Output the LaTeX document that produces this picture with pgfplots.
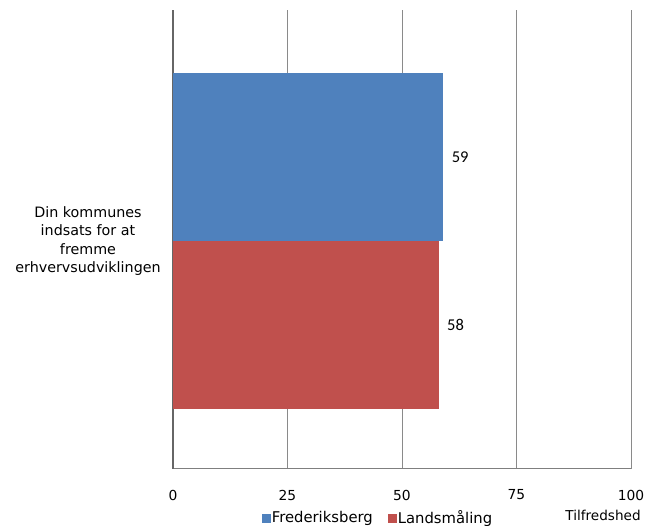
\documentclass[border=0pt]{standalone}
\usepackage{fontspec}
\setmainfont{DejaVu Sans}
\newfontfamily\carlito{Carlito}
\usepackage{pgfplots}
\pgfplotsset{compat=1.18}
\definecolor{blueS}{HTML}{4F81BD}
\definecolor{redS}{HTML}{C0504D}
\definecolor{gridc}{HTML}{8A8A8A}
\definecolor{axisc}{HTML}{7F7F7F}
\begin{document}
\begin{tikzpicture}[x=1pt,y=1pt]
\useasboundingbox (0,0) rectangle (648,526);
\begin{axis}[
  /pgf/number format/assume math mode=true,
  at={(173pt,57pt)}, anchor=south west,
  scale only axis, width=458pt, height=459pt,
  xmin=0, xmax=100, ymin=-228, ymax=231,
  axis x line=bottom, axis y line=left,
  x axis line style={-, draw=axisc, line width=1pt},
  y axis line style={-, draw=axisc!80!black, line width=1.2pt},
  xtick={0,25,50,75,100},
  ytick={0},
  yticklabels={{Din kommunes\\indsats for at\\fremme\\erhvervsudviklingen}},
  major tick length=0pt,
  xmajorgrids, major grid style={gridc, line width=0.8pt},
  xticklabel style={font=\fontsize{13.8}{14}\selectfont, anchor=center, yshift=-26pt},
  yticklabel style={font=\fontsize{14.3}{18.5}\selectfont, align=center, anchor=center, xshift=-85pt},
  xbar, bar width=168pt,
  nodes near coords={\carlito\fontsize{16.5}{17}\selectfont\pgfmathprintnumber{\pgfplotspointmeta}},
  every node near coord/.append style={anchor=west, xshift=5pt, text=black},
  xlabel={Tilfredshed},
  xlabel style={at={(axis description cs:0.939,-0.102)}, anchor=center, font=\fontsize{13.6}{14}\selectfont},
  legend style={at={(axis description cs:0.4465,-0.1068)}, anchor=center, draw=none, legend columns=2,
    font=\fontsize{14.8}{15}\selectfont,
    /tikz/every even column/.append style={column sep=14pt},
    nodes={inner sep=1pt}},
  legend image code/.code={\fill[#1] (0pt,-4.5pt) rectangle (9pt,4.5pt);},
]
\addplot[fill=blueS, draw=none, bar shift=84pt] coordinates {(59,0)};
\addplot[fill=redS, draw=none, bar shift=-84pt] coordinates {(58,0)};
\legend{Frederiksberg, Landsmåling}
\end{axis}
\end{tikzpicture}
\end{document}
